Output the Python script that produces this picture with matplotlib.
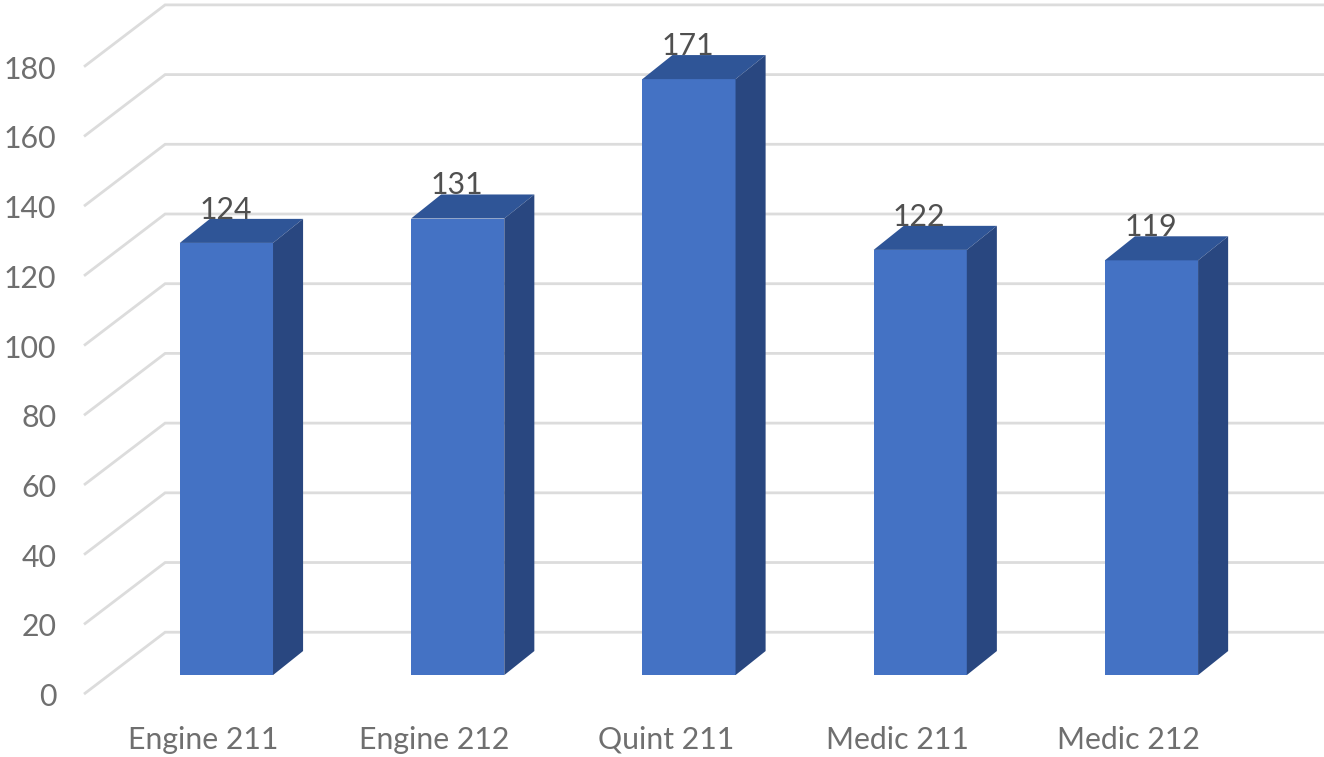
import numpy as np
import matplotlib
matplotlib.use("Agg")
import matplotlib.pyplot as plt
from matplotlib.patches import Polygon

plt.rcParams['font.family'] = ['Lato', 'DejaVu Sans']

categories = ["Engine 211", "Engine 212", "Quint 211", "Medic 211", "Medic 212"]
values = [124, 131, 171, 122, 119]
y_ticks = [0, 20, 40, 60, 80, 100, 120, 140, 160, 180]

# fake 3d look, one axes over the whole figure: x = category number, y = value
bar_w = 0.403
bar_dx, bar_dy = 0.13, 6.9       # depth of a bar
wall_x = -0.265                  # back wall left edge
floor_dx, floor_dy = 0.346, 17.5 # side wall lines
floor_back = 12.3                # where 0 sits on the back wall

fig = plt.figure(figsize=(13.24, 7.57), dpi=100)
ax = fig.add_axes([0, 0, 1, 1])
ax.set_xlim(-0.979, 4.746)
ax.set_ylim(-23.5, 193.7)
ax.axis("off")

# gridlines
for v in y_ticks:
    yb = v + floor_back
    ax.plot([wall_x - floor_dx, wall_x, 4.746], [yb - floor_dy, yb, yb],
            color="#dcdcdc", lw=2.0, solid_joinstyle="miter", zorder=1)
    ax.text(wall_x - floor_dx - 0.125, yb - floor_dy - 1.1, str(v), ha="right", va="center",
            fontsize=21.8, color="#6f6f6f", zorder=5)

# bars
for i, (name, v) in enumerate(zip(categories, values)):
    l, r = i - bar_w / 2, i + bar_w / 2
    ax.add_patch(Polygon([(l, 0), (r, 0), (r, v), (l, v)], fc="#4472c4", ec="none", zorder=3))
    ax.add_patch(Polygon([(l, v), (r, v), (r + bar_dx, v + bar_dy), (l + bar_dx, v + bar_dy)],
                         fc="#2f5597", ec="none", zorder=3))
    ax.add_patch(Polygon([(r, 0), (r + bar_dx, bar_dy), (r + bar_dx, v + bar_dy), (r, v)],
                         fc="#294780", ec="none", zorder=3))
    ax.text(i - 0.004, v + bar_dy, str(v), ha="center", va="baseline", fontsize=21.8,
            color="#505050", zorder=4)
    ax.text(i - 0.1, -18.5, name, ha="center", va="center", fontsize=21.8, color="#6f6f6f")

fig.savefig("out.png", dpi=100)
